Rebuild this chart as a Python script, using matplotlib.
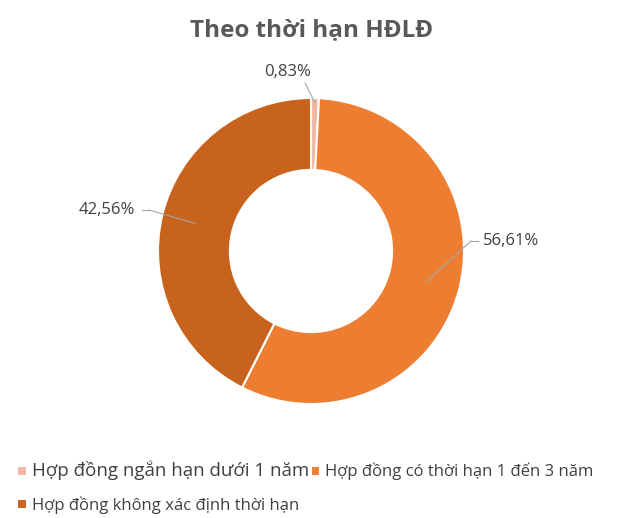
import numpy as np
import matplotlib.pyplot as plt

plt.rcParams['font.family'] = ['Open Sans', 'DejaVu Sans']

# share of labour contracts by term
labels = ['Hợp đồng ngắn hạn dưới 1 năm',
          'Hợp đồng có thời hạn 1 đến 3 năm',
          'Hợp đồng không xác định thời hạn']
shares = [0.83, 56.61, 42.56]
colors = ['#F4B6A4', '#ED7D31', '#C8631E']

W, H = 623, 518
fig = plt.figure(figsize=(W / 100, H / 100), dpi=100)
ax = fig.add_axes([0, 0, 1, 1])

cx, cy, R = 311, H - 251, 153
wedges, _ = ax.pie(shares, colors=colors, startangle=90, counterclock=False,
                   center=(cx, cy), radius=R, frame=True,
                   wedgeprops=dict(width=R * 0.47, edgecolor='white', linewidth=1.5))
ax.set_xlim(0, W)
ax.set_ylim(0, H)
ax.set_aspect('equal')
ax.axis('off')

# label text positions (pixels from top-left) and leader anchor radius
text_pos = [(288, 72), (511, 241), (107, 210)]
anchor_r = [0.97, 0.78, 0.78]
cum = np.cumsum([0] + shares[:-1])
for i, v in enumerate(shares):
    mid = np.deg2rad((cum[i] + v / 2) / 100 * 360)
    px = cx + anchor_r[i] * R * np.sin(mid)
    py = cy + anchor_r[i] * R * np.cos(mid)
    tx, ty = text_pos[i]
    txt = f'{v:.2f}%'.replace('.', ',')
    ax.text(tx, H - ty, txt, ha='center', va='center', fontsize=12, color='#404040')
    if i == 0:
        lx, ly = tx + 17, H - ty - 11
    elif i == 1:
        ax.plot([tx - 40, tx - 33], [H - ty, H - ty], color='#A6A6A6', lw=0.8)
        lx, ly = tx - 40, H - ty
    else:
        ax.plot([tx + 35, tx + 42], [H - ty, H - ty], color='#A6A6A6', lw=0.8)
        lx, ly = tx + 42, H - ty
    ax.plot([lx, px], [ly, py], color='#A6A6A6', lw=0.8)

fig.text(0.5, 1 - 30 / H, 'Theo thời hạn HĐLĐ', ha='center', va='center',
         fontsize=17.5, fontweight='bold', color='#595959')

order = [0, 2, 1]
leg = fig.legend([wedges[i] for i in order], [labels[i] for i in order],
                 ncol=2, loc='upper left', bbox_to_anchor=(0.004, 1 - 446 / H),
                 frameon=False, fontsize=12, handlelength=0.55, handleheight=0.55,
                 handletextpad=0.3, columnspacing=0.1, labelspacing=0.95,
                 labelcolor='#404040')
leg.get_texts()[0].set_fontsize(13.5)

fig.savefig('out.png', dpi=100)
